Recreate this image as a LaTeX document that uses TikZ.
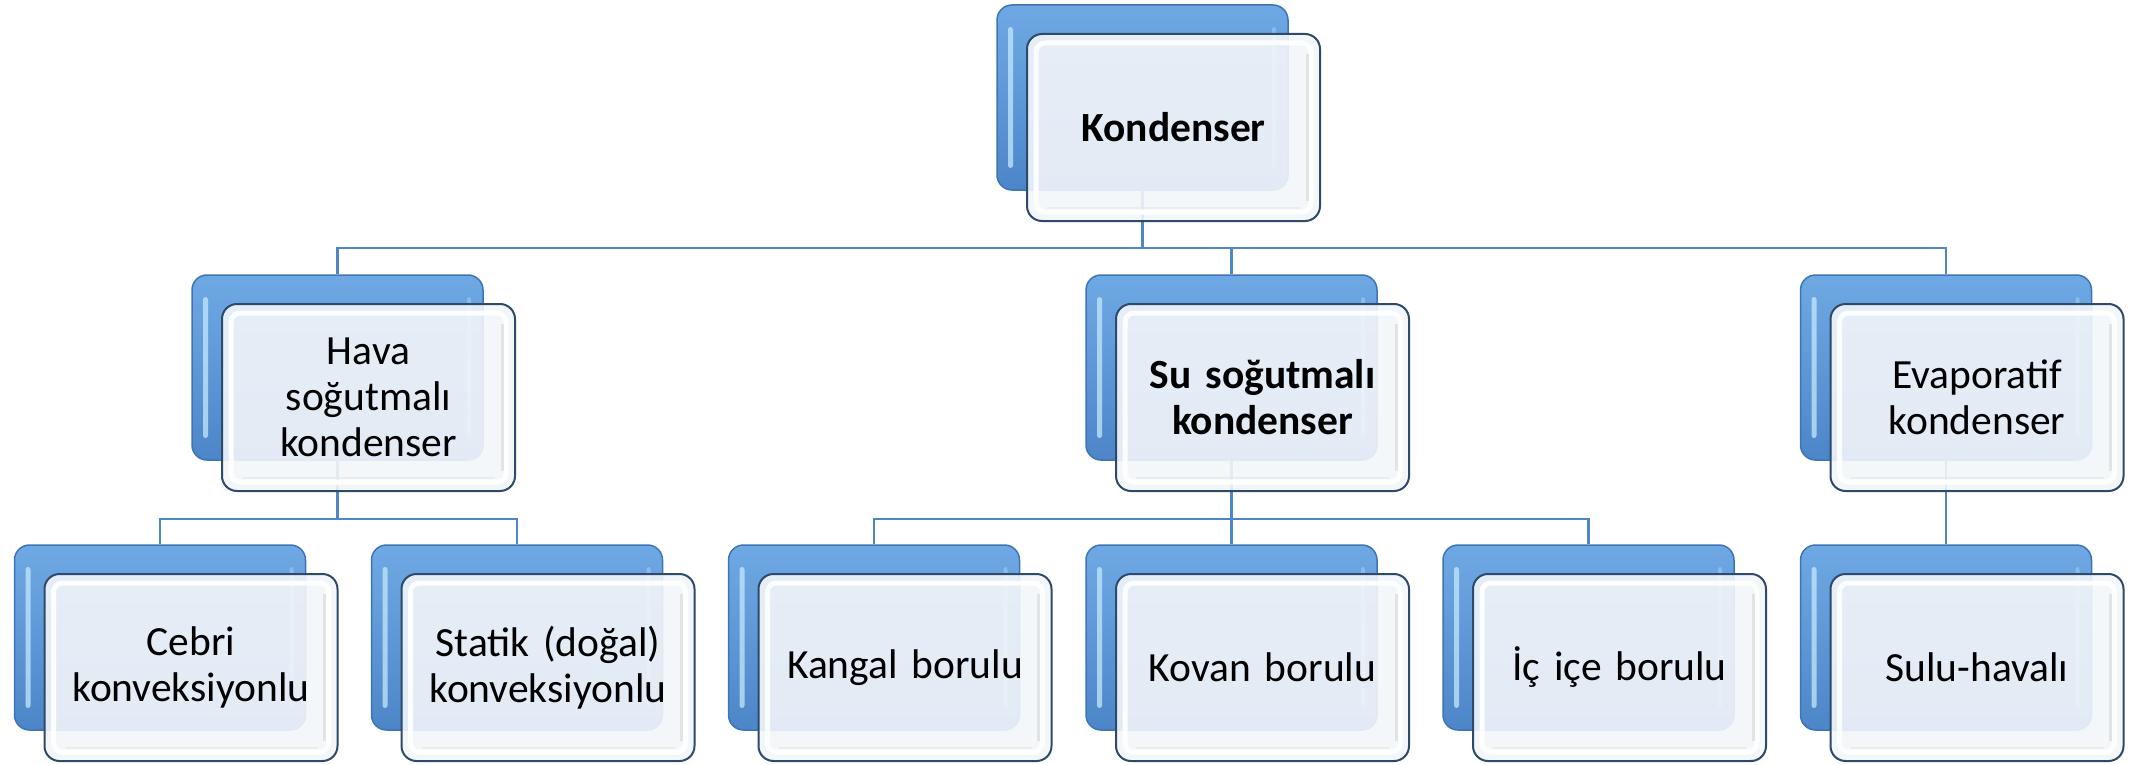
\documentclass[tikz,border=0pt]{standalone}
\usepackage{fontspec}
\setmainfont{Carlito}
\usetikzlibrary{calc}
\pgfdeclarelayer{bg}
\pgfsetlayers{bg,main}

\definecolor{backfillTop}{HTML}{6FA9E4}
\definecolor{backfillBot}{HTML}{4D86C8}
\definecolor{backline}{HTML}{3E74B6}
\definecolor{frontfill}{HTML}{F3F6FA}
\definecolor{frontline}{HTML}{2E4A6A}
\definecolor{connline}{HTML}{4F86C6}
\definecolor{glint}{HTML}{C4E8FB}

\tikzset{
  backbox/.style={rounded corners=15pt, minimum width=291pt, minimum height=185pt,
    inner sep=0pt, draw=backline, line width=1.5pt,
    top color=backfillTop, bottom color=backfillBot,
    path picture={
      \fill[glint, opacity=.75, rounded corners=2.5pt]
        ($(path picture bounding box.north west)+(11pt,-22pt)$) rectangle
        ($(path picture bounding box.south west)+(16pt,22pt)$);
      \fill[glint, opacity=.35, rounded corners=2.5pt]
        ($(path picture bounding box.north east)+(-16pt,-22pt)$) rectangle
        ($(path picture bounding box.south east)+(-12pt,22pt)$);
    }},
  frontbox/.style={rounded corners=15pt, minimum width=293pt, minimum height=187pt,
    inner sep=0pt, draw=frontline, line width=2pt,
    fill=frontfill, fill opacity=0.9, text opacity=1, draw opacity=1,
    align=center, text width=270pt,
    font=\fontsize{41.5pt}{46pt}\selectfont,
    path picture={
      \draw[white, line width=5pt, rounded corners=9pt, opacity=.9]
        ($(path picture bounding box.south west)+(9pt,9pt)$) rectangle
        ($(path picture bounding box.north east)+(-9pt,-9pt)$);
      \draw[black!14, line width=3pt, opacity=.7]
        ($(path picture bounding box.north east)+(-13pt,-20pt)$) --
        ($(path picture bounding box.south east)+(-13pt,20pt)$);
      \draw[black!9, line width=2.5pt, opacity=.7]
        ($(path picture bounding box.south west)+(20pt,13pt)$) --
        ($(path picture bounding box.south east)+(-20pt,13pt)$);
    }},
  conn/.style={draw=connline, line width=2.5pt},
  boldtext/.style={font=\fontsize{41.5pt}{46pt}\selectfont\bfseries}
}

\begin{document}
\begin{tikzpicture}[x=1pt, y=1pt]
  \useasboundingbox (0,0) rectangle (2142,-765);

  % top level
  \node[backbox] (topB) at (1142.5,-97.5) {};
  \node[frontbox, boldtext] (topF) at ($(topB.center)+(31,-30)$) {Kondenser};

  % second level
  \node[backbox] (havaB) at (337.5,-367.5) {};
  \node[frontbox] (havaF) at ($(havaB.center)+(31,-30)$) {Hava\\soğutmalı\\kondenser};

  \node[backbox] (suB) at (1231.5,-367.5) {};
  \node[frontbox, boldtext] (suF) at ($(suB.center)+(31,-30)$) {Su soğutmalı\\kondenser};

  \node[backbox] (evapB) at (1946,-367.5) {};
  \node[frontbox] (evapF) at ($(evapB.center)+(31,-30)$) {Evaporatif\\kondenser};

  % third level
  \node[backbox] (cebriB) at (160,-637.5) {};
  \node[frontbox] (cebriF) at ($(cebriB.center)+(31,-30)$) {Cebri\\konveksiyonlu};

  \node[backbox] (statikB) at (517,-637.5) {};
  \node[frontbox] (statikF) at ($(statikB.center)+(31,-30)$) {Statik (doğal)\\konveksiyonlu};

  \node[backbox] (kangalB) at (874,-637.5) {};
  \node[frontbox] (kangalF) at ($(kangalB.center)+(31,-30)$) {Kangal borulu};

  \node[backbox] (kovanB) at (1231.5,-637.5) {};
  \node[frontbox] (kovanF) at ($(kovanB.center)+(31,-30)$) {Kovan borulu};

  \node[backbox] (iciceB) at (1588.5,-637.5) {};
  \node[frontbox] (iciceF) at ($(iciceB.center)+(31,-30)$) {İç içe borulu};

  \node[backbox] (suluB) at (1946,-637.5) {};
  \node[frontbox] (suluF) at ($(suluB.center)+(31,-30)$) {Sulu-havalı};

  % connectors, kept underneath the boxes
  \begin{pgfonlayer}{bg}
    \foreach \c in {havaB,suB,evapB}
      \draw[conn] (topB.south) -- ++(0,-57) -| (\c.north);
    \foreach \c in {cebriB,statikB}
      \draw[conn] (havaB.south) -- ++(0,-58) -| (\c.north);
    \foreach \c in {kangalB,kovanB,iciceB}
      \draw[conn] (suB.south) -- ++(0,-58) -| (\c.north);
    \draw[conn] (evapB.south) -- (suluB.north);
  \end{pgfonlayer}
\end{tikzpicture}
\end{document}
